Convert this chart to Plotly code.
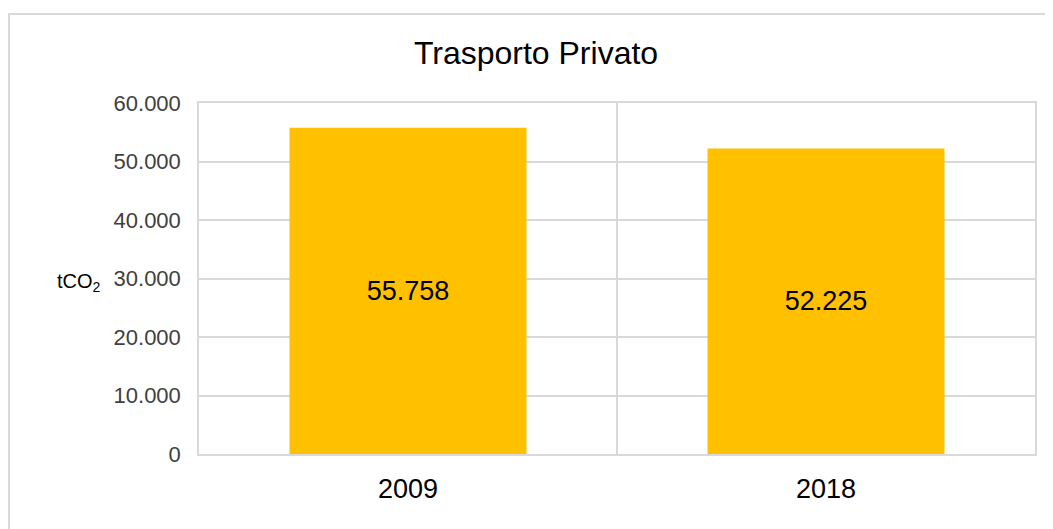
import plotly.graph_objects as go

categories = ["2009", "2018"]
values = [55758, 52225]
y_ticks = [0, 10000, 20000, 30000, 40000, 50000, 60000]
title_text = "Trasporto Privato"
y_title = "tCO<sub>2</sub>"

GRID = "#d9d9d9"
FONT = "Liberation Sans, Arial, sans-serif"

# page is rendered with an 8px body margin; work in page pixels
OFF = 8
W, H = 1053 - OFF, 529 - OFF
L, R, T, B = 199 - OFF, 18, 103 - OFF, 75
pw, ph = W - L - R, H - T - B


def px_x(p):
    return (p - OFF - L) / pw


def px_y(p):
    return (H - B - (p - OFF)) / ph


fig = go.Figure(
    go.Bar(
        x=categories,
        y=values,
        marker=dict(color="#FFC000", line=dict(width=0)),
        width=0.567,
        texttemplate="%{y:,d}",
        textposition="inside",
        insidetextanchor="middle",
        textangle=0,
        insidetextfont=dict(family=FONT, size=27, color="#000000"),
        hoverinfo="skip",
    )
)

fig.update_layout(
    width=W,
    height=H,
    margin=dict(l=L, r=R, t=T, b=B, autoexpand=False),
    paper_bgcolor="white",
    plot_bgcolor="white",
    separators=",.",
    showlegend=False,
    font=dict(family=FONT),
    title=dict(
        text=title_text,
        x=(536 - OFF) / W,
        xref="container",
        xanchor="center",
        y=1 - (53 - OFF) / H,
        yref="container",
        yanchor="middle",
        font=dict(family=FONT, size=32, color="#000000"),
    ),
    xaxis=dict(
        type="category",
        showgrid=True,
        gridcolor=GRID,
        gridwidth=1.5,
        tickson="boundaries",
        ticks="",
        showline=True,
        linecolor=GRID,
        linewidth=1.5,
        mirror=True,
        tickfont=dict(family=FONT, size=27, color="#000000"),
        ticklabelstandoff=10,
    ),
    yaxis=dict(
        range=[0, 60000],
        tickvals=y_ticks,
        tickformat=",d",
        showgrid=True,
        gridcolor=GRID,
        gridwidth=1.5,
        zeroline=False,
        ticks="",
        showline=True,
        linecolor=GRID,
        linewidth=1.5,
        mirror=True,
        tickfont=dict(family=FONT, size=22, color="#404040"),
        ticklabelstandoff=12,
    ),
    annotations=[
        dict(
            text=y_title,
            xref="paper",
            yref="y",
            x=px_x(79.5),
            y=30000,
            xanchor="center",
            yanchor="middle",
            yshift=-4,
            showarrow=False,
            font=dict(family=FONT, size=20, color="#000000"),
        )
    ],
    shapes=[
        dict(
            type="rect",
            xref="paper",
            yref="paper",
            x0=px_x(9),
            x1=px_x(1070),
            y0=px_y(545),
            y1=px_y(14),
            line=dict(color=GRID, width=2),
            fillcolor="rgba(0,0,0,0)",
            layer="below",
        )
    ],
)

fig.write_html("out.html")
